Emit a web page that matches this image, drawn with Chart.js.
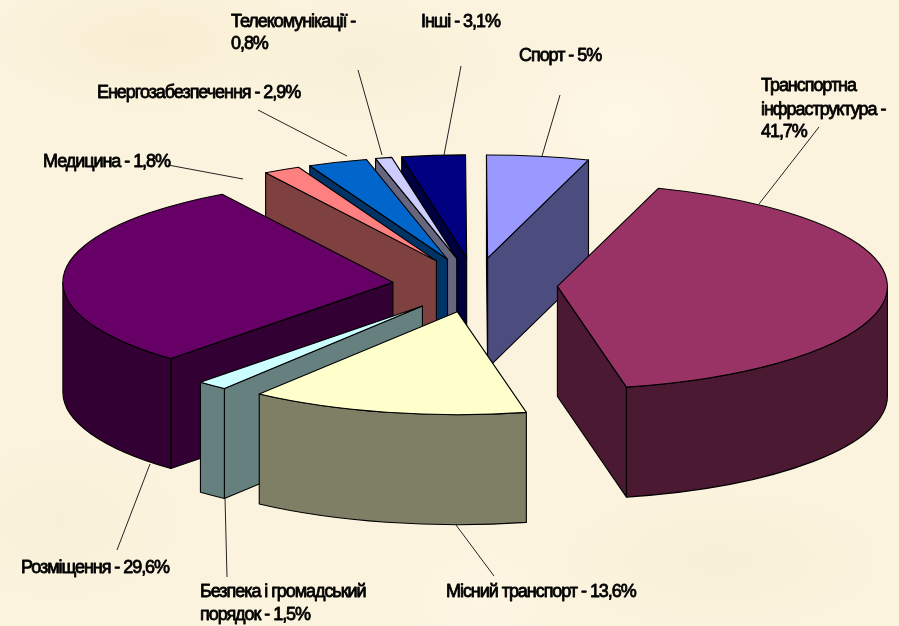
<!DOCTYPE html>
<html><head><meta charset="utf-8">
<style>
html,body{margin:0;padding:0;width:899px;height:626px;overflow:hidden;background-color:#fcf3de;
background-image:
radial-gradient(ellipse 160px 70px at 150px 40px,rgba(246,236,205,.7),transparent),
radial-gradient(ellipse 120px 90px at 620px 120px,rgba(255,250,235,.7),transparent),
radial-gradient(ellipse 140px 60px at 360px 60px,rgba(247,238,212,.7),transparent),
radial-gradient(ellipse 120px 80px at 60px 520px,rgba(247,238,212,.6),transparent),
radial-gradient(ellipse 160px 70px at 720px 560px,rgba(247,238,212,.7),transparent),
radial-gradient(ellipse 100px 80px at 480px 600px,rgba(255,248,230,.6),transparent);}
canvas{display:block;filter:blur(.45px)}
</style>
<script src="https://cdn.jsdelivr.net/npm/chart.js@4"></script>
</head><body><canvas id="c" width="899" height="626"></canvas>
<script>
const categories=['Спорт','Транспортна інфраструктура','Міський транспорт','Безпека і громадський порядок','Розміщення','Медицина','Енергозабезпечення','Телекомунікації','Інші'];
const shares=[5,41.7,13.6,1.5,29.6,1.8,2.9,0.8,3.1];
const colors=['#9999ff','#993366','#ffffcc','#ccffff','#660066','#ff8080','#0066cc','#ccccff','#000080'];

// label text lines: [text, left, baseline]
const labelLines=[
 ['Телекомунікації -',231,27],['0,8%',231,49],
 ['Інші - 3,1%',421,27],
 ['Спорт - 5%',519,61],
 ['Транспортна',761,91],['інфраструктура -',761,115],['41,7%',761,137],
 ['Енергозабезпечення - 2,9%',97,98],
 ['Медицина - 1,8%',43,167],
 ['Розміщення - 29,6%',21,573],
 ['Безпека і громадський',200,597],['порядок - 1,5%',200,620],
 ['Місний транспорт - 13,6%',446,597]
];
// leader lines: label end and slice end
const leaderLines=[
 [358,70,382,155],[461,66,444,155],[560,95,542,156],[819,127,759,204],
 [258,110,347,156],[168,165,243,179],[117,550,150,464],[227,577,225,498],[494,576,456,525]
];
// 3D projection of the pie
const view={cx:475,cy:285,rx:330,ry:103,explodeX:.25,explodeY:.265,depth:110};

function shade(hex){
  const n=parseInt(hex.slice(1),16);
  return `rgb(${(n>>16&255)>>1},${(n>>8&255)>>1},${(n&255)>>1})`;
}
const pie3d={
  id:'pie3d',
  beforeDatasetDraw(){return false;},
  afterDatasetsDraw(chart){
    const ctx=chart.ctx, arcs=chart.getDatasetMeta(0).data;
    const {cx,cy,rx,ry,explodeX,explodeY,depth}=view;
    const items=arcs.map((arc,i)=>{
      const mid=(arc.startAngle+arc.endAngle)/2;
      return {arc,i,a0:arc.startAngle,a1:arc.endAngle,
        ax:cx+explodeX*rx*Math.cos(mid), ay:cy+explodeY*ry*Math.sin(mid)};
    }).sort((p,q)=>p.ay-q.ay);
    const px=(it,a)=>it.ax+rx*Math.cos(a), py=(it,a)=>it.ay+ry*Math.sin(a);
    ctx.save();
    ctx.lineWidth=1.1; ctx.strokeStyle='#000'; ctx.lineJoin='round';
    const quad=(it,a,fill)=>{
      ctx.beginPath();
      ctx.moveTo(it.ax,it.ay);ctx.lineTo(px(it,a),py(it,a));
      ctx.lineTo(px(it,a),py(it,a)+depth);ctx.lineTo(it.ax,it.ay+depth);ctx.closePath();
      ctx.fillStyle=fill;ctx.fill();ctx.stroke();
    };
    for(const it of items){
      const wall=shade(colors[it.i]);
      if(Math.cos(it.a0)<0) quad(it,it.a0,wall);
      if(Math.cos(it.a1)>0) quad(it,it.a1,wall);
      const s=Math.max(it.a0,0), e=Math.min(it.a1,Math.PI);
      if(e>s){
        ctx.beginPath();
        ctx.ellipse(it.ax,it.ay,rx,ry,0,s,e);
        ctx.ellipse(it.ax,it.ay+depth,rx,ry,0,e,s,true);
        ctx.closePath();
        ctx.fillStyle=wall;ctx.fill();ctx.stroke();
      }
      // top face drawn by the library's own arc element, projected
      const arc=it.arc, R=arc.outerRadius, sx=rx/R, sy=ry/R;
      ctx.save();
      ctx.setTransform(sx,0,0,sy,it.ax-sx*arc.x,it.ay-sy*arc.y);
      arc.draw(ctx);
      ctx.restore();
      ctx.beginPath();
      ctx.moveTo(it.ax,it.ay);
      ctx.ellipse(it.ax,it.ay,rx,ry,0,it.a0,it.a1);
      ctx.closePath();ctx.stroke();
    }
    ctx.lineWidth=1;ctx.strokeStyle='#222';
    for(const [x0,y0,x1,y1] of leaderLines){
      ctx.beginPath();ctx.moveTo(x0,y0);ctx.lineTo(x1,y1);ctx.stroke();
    }
    ctx.fillStyle='#000';ctx.strokeStyle='#000';ctx.lineWidth=.8;
    ctx.font='18px "Liberation Sans"';ctx.letterSpacing='-1.05px';ctx.textBaseline='alphabetic';
    for(const [t,x,y] of labelLines){ctx.fillText(t,x,y);ctx.strokeText(t,x,y);}
    ctx.restore();
  }
};
new Chart(document.getElementById('c'),{
  type:'pie',
  data:{labels:categories,datasets:[{data:shares,backgroundColor:colors,borderWidth:0}]},
  options:{responsive:false,animation:false,events:[],rotation:-0.2,layout:{padding:0},
    plugins:{legend:{display:false},tooltip:{enabled:false}}},
  plugins:[pie3d]
});
</script></body></html>
